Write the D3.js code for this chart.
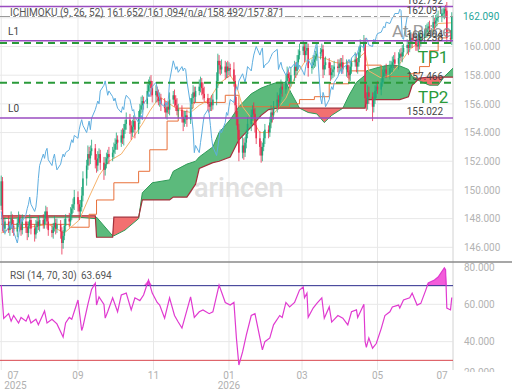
<!DOCTYPE html>
<html>
<head>
<meta charset="utf-8">
<script src="https://cdn.jsdelivr.net/npm/d3@7"></script>
<style>
  body { margin: 0; background: #fff; }
  svg { display: block; font-family: Roboto, "Noto Sans", sans-serif; }
</style>
</head>
<body>
<div id="chart"></div>
<script>
// Daily candles, Jul 2025 - Jun 2026 (weekdays), open = previous close
const firstOpen = 148.9;
const closes = [
  // Jul 2025
  150.6,147.6,147.3,147.8,147.2,147.6,148.0,147.5,147.1,147.7,148.1,147.6,147.2,147.8,147.4,147.0,147.5,147.9,147.3,146.9,147.4,147.8,147.5,
  // Aug
  147.9,147.6,148.0,148.5,147.8,147.2,147.0,147.4,147.7,147.3,147.6,147.1,146.3,146.8,147.5,148.0,147.8,148.3,148.7,149.0,149.5,
  // Sep
  149.0,148.5,148.8,149.6,150.8,151.7,152.5,152.2,152.7,152.9,152.1,151.7,152.2,152.5,151.9,151.4,151.8,152.2,152.5,152.3,152.6,152.8,
  // Oct
  153.2,153.5,153.3,153.8,153.6,154.2,154.6,154.9,154.5,154.0,154.4,154.8,154.2,155.0,155.6,155.9,156.2,156.0,156.9,157.3,157.6,157.1,156.6,
  // Nov
  156.9,156.5,156.2,156.4,156.0,155.7,155.4,155.8,155.6,156.3,156.6,156.3,155.9,155.5,155.6,155.1,154.7,155.0,155.2,154.9,
  // Dec
  156.0,156.4,156.8,156.5,156.9,157.2,157.5,157.1,156.7,156.4,156.0,155.8,156.1,155.9,156.3,157.6,159.0,158.7,158.4,158.6,158.2,158.6,158.3,
  // Jan 2026
  158.5,158.4,157.6,155.9,155.0,154.2,152.6,153.1,152.6,153.3,153.9,154.6,155.2,155.6,155.3,154.5,153.6,153.0,152.4,153.0,153.6,154.2,
  // Feb
  154.0,154.7,155.4,155.2,155.8,156.3,156.1,156.7,157.2,157.0,157.6,158.1,157.8,157.5,158.0,158.6,158.3,158.9,159.4,159.7,
  // Mar
  160.0,159.4,159.7,159.9,158.5,158.7,158.9,159.1,159.3,159.5,159.6,159.8,158.4,158.7,158.9,158.5,158.0,158.2,158.4,158.6,158.5,158.8,
  // Apr
  158.6,158.9,158.4,158.7,158.2,158.0,158.6,158.9,159.1,158.6,158.9,159.6,160.0,160.3,156.4,156.0,156.8,156.5,155.8,156.3,156.9,157.2,
  // May
  157.0,157.5,157.9,158.2,158.4,158.1,158.5,158.7,158.9,159.1,158.8,159.2,159.5,159.3,159.6,159.9,160.1,159.9,160.3,160.6,160.4,
  // Jun
  160.1,160.0,160.5,160.3,160.7,160.9,161.0,161.2,161.4,161.3,161.7,161.6,161.8,162.0,162.1,162.3,162.3,162.6,162.5,160.6,160.5,162.09
];
// upper wick above the body, lower wick below the body
const upWick = [
  .4,.3,.5,.3,.4,.2,.5,.3,.4,.3,.4,.2,.3,.5,.3,.4,.3,.4,.2,.3,.5,.3,.4,
  .3,.4,.5,.4,.3,.3,.4,.3,.5,.3,.4,.3,.3,.4,.5,.3,.4,.5,.3,.4,.5,
  .4,.3,.5,.6,.5,.4,.6,.5,.4,.6,.3,.4,.5,.4,.3,.4,.5,.4,.3,.5,.4,.5,
  .4,.5,.3,.4,.5,.4,.3,.5,.4,.3,.5,.4,.3,.5,.4,.6,.4,.3,.5,.4,.3,.4,.5,
  .4,.3,.5,.4,.3,.4,.5,.3,.4,.5,.3,.4,.3,.5,.4,.3,.4,.5,.3,.4,
  .4,.3,.5,.4,.3,.5,.4,.3,.4,.5,.3,.4,.3,.5,.4,.6,.5,.4,.3,.5,.4,.3,.4,
  .4,.3,.5,.4,.6,.5,.4,.6,.5,.4,.3,.5,.4,.3,.5,.4,.3,.5,.4,.3,.5,.4,
  .3,.4,.5,.3,.4,.5,.3,.4,.5,.3,.4,.5,.3,.4,.5,.4,.3,.5,.4,.5,
  .4,.3,.5,.4,.3,.4,.5,.3,.4,.5,.3,.4,.3,.5,.4,.3,.4,.5,.3,.4,.5,.3,
  .4,.3,.5,.4,.3,.5,.4,.3,.5,.4,.3,.4,.5,.5,.3,.4,.5,.4,.3,.5,.4,.3,
  .4,.3,.5,.4,.3,.4,.5,.3,.4,.3,.5,.4,.3,.4,.5,.3,.4,.3,.5,.4,.3,
  .3,.4,.5,.3,.4,.3,.5,.4,.3,.4,.5,.3,.4,.3,.4,.3,.4,.19,.3,.6,.5,.3
];
const dnWick = [
  .3,.5,.3,.4,.2,.4,.3,.5,.3,.4,.3,.5,.4,.3,.4,.5,.3,.2,.4,.5,.3,.4,.3,
  .4,.3,.3,.4,.5,.4,.3,.4,.3,.4,.3,.5,.8,.4,.3,.4,.3,.3,.4,.3,.4,
  .5,.6,.4,.3,.4,.5,.3,.5,.4,.3,.6,.5,.4,.3,.5,.7,.4,.3,.4,.5,.3,.4,
  .3,.4,.5,.3,.4,.5,.3,.4,.6,.5,.3,.4,.6,.3,.4,.3,.5,.4,.3,.4,.5,.6,.5,
  .5,.4,.3,.4,.5,.3,.4,.5,.3,.4,.3,.5,.4,.3,.5,.4,.6,.3,.4,.5,
  .3,.4,.3,.5,.4,.3,.4,.5,.4,.3,.5,.4,.3,.4,.3,.4,.5,.6,.4,.3,.5,.4,.5,
  .3,.5,.4,.6,.5,.7,.6,.4,.5,.3,.4,.3,.5,.4,.3,.5,.4,.6,.5,.4,.3,.4,
  .4,.3,.4,.5,.3,.4,.5,.3,.4,.5,.3,.4,.5,.4,.3,.4,.5,.3,.4,.3,
  .3,.5,.4,.3,.6,.4,.3,.4,.5,.3,.4,.3,.6,.4,.3,.5,.4,.3,.4,.5,.3,.4,
  .3,.4,.3,.5,.4,.3,.4,.5,.3,.4,.5,.3,.4,.3,.6,.5,.4,.5,1.0,.4,.3,.5,
  .3,.4,.3,.5,.4,.3,.4,.3,.5,.4,.3,.4,.5,.3,.4,.3,.4,.5,.3,.4,.5,
  .4,.3,.4,.5,.3,.4,.3,.4,.5,.3,.4,.5,.3,.4,.3,.4,.3,.4,.5,.4,.3,.4
];

// Ichimoku lines
const tenkanPts = [
  ["2025-07-01",147.0],["2025-07-08",147.3],["2025-07-24",147.4],["2025-08-08",147.6],["2025-08-21",147.0],
  ["2025-09-02",147.9],["2025-09-10",149.5],["2025-09-18",151.0],["2025-09-26",152.0],["2025-10-06",152.5],
  ["2025-10-15",153.6],["2025-10-23",154.6],["2025-10-29",155.5],["2025-11-06",156.5],["2025-11-14",156.0],
  ["2025-11-21",155.6],["2025-12-01",155.4],["2025-12-08",155.9],["2025-12-16",156.3],["2025-12-24",157.4],
  ["2026-01-02",158.0],["2026-01-07",157.3],["2026-01-12",155.8],["2026-01-19",155.0],["2026-01-26",154.0],
  ["2026-02-02",154.0],["2026-02-06",155.3],["2026-02-16",156.4],["2026-02-23",157.8],["2026-03-03",158.9],
  ["2026-03-11",159.3],["2026-03-19",159.2],["2026-03-27",158.9],["2026-04-03",158.8],["2026-04-13",159.0],
  ["2026-04-21",159.6],["2026-04-24",158.3],["2026-05-04",157.8],["2026-05-11",158.0],["2026-05-19",158.8],
  ["2026-05-27",159.8],["2026-06-04",160.3],["2026-06-12",160.9],["2026-06-19",161.6],["2026-06-30",161.652]
];
const kijunPts = [
  ["2025-07-01",147.6],["2025-08-01",147.6],["2025-08-25",147.4],["2025-09-10",148.3],["2025-09-16",149.3],
  ["2025-09-30",150.5],["2025-10-20",151.3],["2025-10-29",152.8],["2025-11-12",154.8],["2025-11-21",155.7],
  ["2025-12-03",156.1],["2025-12-29",156.6],["2026-01-09",155.8],["2026-02-19",156.0],["2026-02-27",156.3],
  ["2026-03-11",156.5],["2026-03-23",157.4],["2026-04-08",158.3],["2026-04-21",158.7],["2026-05-04",157.9],
  ["2026-05-27",158.1],["2026-06-04",158.6],["2026-06-12",159.7],["2026-06-19",160.6],["2026-06-26",161.094],
  ["2026-06-30",161.094]
];
const cloudDates = [
  "2025-07-01","2025-08-01","2025-09-01","2025-09-15","2025-09-16","2025-09-29","2025-09-30","2025-10-09",
  "2025-10-20","2025-10-23","2025-10-31","2025-11-14","2025-11-17","2025-11-28","2025-12-05","2025-12-08",
  "2025-12-19","2025-12-24","2026-01-02","2026-01-09","2026-01-19","2026-01-27","2026-02-02","2026-02-09",
  "2026-02-16","2026-02-20","2026-02-27","2026-03-06","2026-03-13","2026-03-19","2026-03-25","2026-04-03",
  "2026-04-08","2026-04-14","2026-04-21","2026-04-22","2026-05-04","2026-05-11","2026-05-19","2026-05-26",
  "2026-05-29","2026-06-04","2026-06-12","2026-06-19","2026-06-24","2026-07-01"
];
const spanA = [
  148.0,148.1,148.1,148.0,148.1,146.8,146.8,147.2,148.0,149.8,150.5,150.7,151.3,151.8,152.0,152.3,
  153.0,154.0,154.9,155.8,156.7,157.1,157.3,157.5,157.5,156.8,155.7,155.4,155.3,154.7,155.2,155.7,
  156.6,157.5,158.0,158.3,158.6,158.7,158.65,158.4,157.9,157.6,157.3,157.3,157.9,158.49
];
const spanB = [
  148.2,148.2,148.2,148.2,146.7,146.7,148.1,148.1,148.1,149.3,149.3,149.3,149.5,149.5,150.4,151.5,
  151.9,152.0,152.3,153.5,154.4,155.2,155.6,155.7,155.7,155.7,155.7,155.7,155.7,155.7,155.7,155.7,
  155.7,155.7,155.7,156.3,156.3,156.3,156.3,156.5,157.3,157.8,157.87,157.87,157.87,157.87
];
const chikouShift = 26;

// RSI (14)
const rsiPts = [
  ["2025-07-01",70.3],["2025-07-03",52.5],["2025-07-07",55],["2025-07-09",51],["2025-07-11",54],["2025-07-15",50],
  ["2025-07-17",53],["2025-07-21",51],["2025-07-23",54],["2025-07-25",50],["2025-07-29",52],["2025-07-31",49],
  ["2025-08-05",56.4],["2025-08-07",50],["2025-08-11",52],["2025-08-15",49.5],["2025-08-20",42.5],["2025-08-22",50],
  ["2025-08-25",53],["2025-08-27",52],["2025-09-01",62.3],["2025-09-04",46],["2025-09-05",48],["2025-09-09",60],
  ["2025-09-12",68],["2025-09-15",71.3],["2025-09-16",59.6],["2025-09-18",64],["2025-09-22",60],["2025-09-23",52.6],
  ["2025-09-25",56],["2025-09-29",63.5],["2025-10-03",56],["2025-10-06",65],["2025-10-10",66],["2025-10-14",57],
  ["2025-10-17",63.5],["2025-10-21",62],["2025-10-24",65],["2025-10-28",73],["2025-10-31",66],["2025-11-04",61],
  ["2025-11-06",59.6],["2025-11-10",52.6],["2025-11-14",63.5],["2025-11-18",54],["2025-11-21",50.5],["2025-11-24",47.3],
  ["2025-12-01",64],["2025-12-04",53],["2025-12-08",56],["2025-12-11",57],["2025-12-16",55],["2025-12-19",56],
  ["2025-12-24",70.3],["2025-12-29",61],["2026-01-02",59.6],["2026-01-05",61],["2026-01-07",42],["2026-01-09",27.5],
  ["2026-01-12",34.5],["2026-01-15",43.5],["2026-01-19",54],["2026-01-22",55],["2026-01-26",42],["2026-01-28",35.6],
  ["2026-01-30",40],["2026-02-03",42],["2026-02-06",49],["2026-02-11",54],["2026-02-13",53],["2026-02-16",61],
  ["2026-02-19",58.6],["2026-02-23",61],["2026-02-27",67.6],["2026-03-02",69.3],["2026-03-03",63.5],["2026-03-05",66],
  ["2026-03-06",53],["2026-03-10",58],["2026-03-13",60.5],["2026-03-17",63.5],["2026-03-19",52.5],["2026-03-23",58.6],
  ["2026-03-25",50.5],["2026-03-30",54],["2026-04-03",52.6],["2026-04-07",49],["2026-04-10",56],["2026-04-14",57],
  ["2026-04-15",53],["2026-04-20",60],["2026-04-21",40],["2026-04-22",37],["2026-04-24",42],["2026-04-27",36.5],
  ["2026-04-30",39],["2026-05-04",47],["2026-05-07",54],["2026-05-11",56],["2026-05-13",58.6],["2026-05-18",59.6],
  ["2026-05-19",58],["2026-05-22",62.3],["2026-05-27",63.5],["2026-05-29",66],["2026-06-02",59.6],["2026-06-05",60.5],
  ["2026-06-09",67.6],["2026-06-11",71.4],["2026-06-16",73],["2026-06-19",74.6],["2026-06-24",79.5],["2026-06-25",78.5],
  ["2026-06-26",58],["2026-06-29",57],["2026-06-30",63.694]
];

// Horizontal levels
const purpleLevels = [["L2",162.792],["L1",160.404],["L0",155.022]];
const tpLevels = [["TP1",160.238],["TP2",157.466]];
const lastPrice = 162.091;
const priceTicks = [146,148,150,152,154,156,158,160,162];
const rsiTicks = [80,60,40,20];
const monthTicks = [["2025-07-01","07","2025"],["2025-09-01","09"],["2025-11-01","11"],["2026-01-01","01","2026"],
                    ["2026-03-01","03"],["2026-05-01","05"],["2026-07-01","07"]];

// ---------------------------------------------------------------
const W = 520, H = 390, plotR = 453;
const mainBot = 262, rsiTop = 262, rsiBot = 370;
const green = "#1fa77a", red = "#e8294b";
const parse = d3.timeParse("%Y-%m-%d");

const x = d3.scaleTime().domain([parse("2025-06-30"), parse("2026-07-01")]).range([0, plotR]);
const y = d3.scaleLinear().domain([146, 160]).range([247.3, 46.5]);
const yR = d3.scaleLinear().domain([20, 80]).range([379, 267]);

// trading days
const days = [];
for (let d = parse("2025-07-01"); d <= parse("2026-06-30"); d = d3.timeDay.offset(d, 1)) {
  if (d.getDay() % 6 !== 0) days.push(d);
}
const candles = days.map((d, i) => {
  const o = i ? closes[i - 1] : firstOpen, c = closes[i];
  return {d, o, c, h: Math.max(o, c) + upWick[i], l: Math.min(o, c) - dnWick[i]};
});

const svg = d3.select("#chart").append("svg").attr("width", W).attr("height", H);
const defs = svg.append("defs");
defs.append("clipPath").attr("id", "clipMain").append("rect").attr("x", 0).attr("y", 0).attr("width", plotR).attr("height", mainBot);
defs.append("clipPath").attr("id", "clipRsi").append("rect").attr("x", 0).attr("y", rsiTop).attr("width", plotR).attr("height", rsiBot - rsiTop);
defs.append("clipPath").attr("id", "clipRsiAxis").append("rect").attr("x", -10).attr("y", rsiTop).attr("width", W - plotR + 10).attr("height", rsiBot - rsiTop + 2);

// grid
const grid = svg.append("g").attr("stroke", "#e8e8e8").attr("stroke-width", 1);
grid.selectAll(".hg").data(priceTicks).join("line")
  .attr("x1", 0).attr("x2", plotR).attr("y1", d => y(d)).attr("y2", d => y(d));
grid.selectAll(".rg").data([60, 40]).join("line").attr("class", "rg")
  .attr("x1", 0).attr("x2", plotR).attr("y1", d => yR(d)).attr("y2", d => yR(d));
grid.selectAll(".vg").data(monthTicks).join("line").attr("class", "vg")
  .attr("x1", d => x(parse(d[0]))).attr("x2", d => x(parse(d[0])))
  .attr("y1", 0).attr("y2", rsiBot);
svg.append("line").attr("x1", plotR).attr("x2", plotR).attr("y1", 0).attr("y2", rsiBot)
  .attr("stroke", "#dedede");

// watermark
const wm = svg.append("g").attr("fill", "#e0e0e0");
wm.append("path").attr("transform", "translate(183,188)")
  .attr("d", d3.arc().innerRadius(5).outerRadius(9.5).startAngle(0.6).endAngle(2 * Math.PI - 0.2)());
wm.append("text").attr("x", 194).attr("y", 197).attr("font-size", 27).attr("font-weight", 500).text("arincen");

const main = svg.append("g").attr("clip-path", "url(#clipMain)");

// cloud
const cloud = cloudDates.map((s, i) => ({d: parse(s), a: spanA[i], b: spanB[i]}));
main.append("path").datum(cloud).attr("fill", "#5cba7c")
  .attr("d", d3.area().x(d => x(d.d)).y0(d => y(d.b)).y1(d => y(Math.max(d.a, d.b))));
main.append("path").datum(cloud).attr("fill", "#f27070")
  .attr("d", d3.area().x(d => x(d.d)).y0(d => y(d.a)).y1(d => y(Math.max(d.a, d.b))));
main.append("path").datum(cloud).attr("fill", "none").attr("stroke", "#2e9b57").attr("stroke-width", 1)
  .attr("d", d3.line().x(d => x(d.d)).y(d => y(d.a)));
main.append("path").datum(cloud).attr("fill", "none").attr("stroke", "#a3303b").attr("stroke-width", 1.2)
  .attr("d", d3.line().x(d => x(d.d)).y(d => y(d.b)));

// tenkan / kijun
main.append("path").datum(kijunPts).attr("fill", "none").attr("stroke", "#e8703a").attr("stroke-width", 1)
  .attr("d", d3.line().curve(d3.curveStepAfter).x(d => x(parse(d[0]))).y(d => y(d[1])));
main.append("path").datum(tenkanPts).attr("fill", "none").attr("stroke", "#f6b26b").attr("stroke-width", 1)
  .attr("d", d3.line().x(d => x(parse(d[0]))).y(d => y(d[1])));

// candles
const gC = main.append("g");
gC.selectAll("line").data(candles).join("line")
  .attr("x1", d => x(d.d)).attr("x2", d => x(d.d))
  .attr("y1", d => y(d.h)).attr("y2", d => y(d.l))
  .attr("stroke", d => d.c >= d.o ? green : red).attr("stroke-width", 0.8);
gC.selectAll("rect").data(candles).join("rect")
  .attr("x", d => x(d.d) - 0.75).attr("width", 1.5)
  .attr("y", d => y(Math.max(d.o, d.c)))
  .attr("height", d => Math.max(0.8, Math.abs(y(d.o) - y(d.c))))
  .attr("fill", d => d.c >= d.o ? green : red);

// chikou span: close plotted 26 bars back
const chikou = days.slice(0, days.length - chikouShift).map((d, i) => [d, closes[i + chikouShift]]);
main.append("path").datum(chikou).attr("fill", "none").attr("stroke", "#5eaee0").attr("stroke-width", 1)
  .attr("d", d3.line().x(d => x(d[0])).y(d => y(d[1])));

// levels
svg.selectAll(".pl").data(purpleLevels).join("line").attr("class", "pl")
  .attr("x1", 0).attr("x2", plotR).attr("y1", d => y(d[1])).attr("y2", d => y(d[1]))
  .attr("stroke", "#9a4cc0").attr("stroke-width", 1.5);
svg.selectAll(".tl").data(tpLevels).join("line").attr("class", "tl")
  .attr("x1", 0).attr("x2", plotR).attr("y1", d => y(d[1])).attr("y2", d => y(d[1]))
  .attr("stroke", "#2a9a3a").attr("stroke-width", 2).attr("stroke-dasharray", "7,5");
svg.append("line").attr("x1", 0).attr("x2", plotR).attr("y1", y(lastPrice)).attr("y2", y(lastPrice))
  .attr("stroke", "#9a9a9a").attr("stroke-width", 1).attr("stroke-dasharray", "10,3,3,3");

// level texts
const fmt = d3.format(".3f");
const lv = svg.append("g").attr("font-size", 10).attr("fill", "#444");
lv.selectAll(".lt").data(purpleLevels).join("text")
  .attr("x", 8).attr("y", d => y(d[1]) - 6).text(d => d[0]);
const valLabels = [162.792, lastPrice, 160.404, 160.238, 157.466, 155.022];
lv.selectAll(".vl").data(valLabels).join("text").attr("class", "vl")
  .attr("x", 443).attr("y", d => y(d) - 2.5).attr("text-anchor", "end").text(d => fmt(d));
svg.append("text").attr("x", 392).attr("y", 37).attr("font-size", 17).attr("fill", "#8a8a8a")
  .attr("opacity", 0.85).text("At Price");
svg.selectAll(".tp").data(tpLevels).join("text").attr("class", "tp")
  .attr("x", 418).attr("y", d => y(d[1]) + 20).attr("font-size", 17).attr("fill", "#2a9a3a").text(d => d[0]);

// legend
const leg = svg.append("g").attr("font-size", 10).attr("fill", "#555");
leg.append("text").attr("x", 10).attr("y", 16).text("ICHIMOKU (9, 26, 52)");
leg.append("text").attr("x", 107).attr("y", 16).text("161.652/161.094/n/a/158.492/157.871");
leg.append("text").attr("x", 10).attr("y", 279).text("RSI (14, 70, 30)");
leg.append("text").attr("x", 81).attr("y", 279).text("63.694");

// right price axis
svg.append("g").attr("transform", `translate(${plotR + 8},0)`)
  .call(d3.axisRight(y).tickValues(priceTicks.slice(0, 8)).tickSize(0).tickFormat(fmt))
  .call(g => g.select(".domain").remove())
  .call(g => g.selectAll("text").attr("fill", "#b3b3b3").attr("font-size", 10).attr("font-family", "Roboto, sans-serif"));
svg.append("text").attr("x", plotR + 10).attr("y", y(162.09)).attr("dy", "0.35em")
  .attr("font-size", 10).attr("fill", "#26a69a").text("162.090");

// RSI panel
const rsi = svg.append("g").attr("clip-path", "url(#clipRsi)");
const rsiData = rsiPts.map(d => [parse(d[0]), d[1]]);
rsi.append("path").datum(rsiData).attr("fill", "#f24ad6").attr("opacity", 0.9)
  .attr("d", d3.area().x(d => x(d[0])).y0(yR(70)).y1(d => yR(Math.max(70, d[1]))));
rsi.append("line").attr("x1", 0).attr("x2", plotR).attr("y1", yR(70)).attr("y2", yR(70))
  .attr("stroke", "#2b2b8c").attr("stroke-width", 1);
rsi.append("line").attr("x1", 0).attr("x2", plotR).attr("y1", yR(30)).attr("y2", yR(30))
  .attr("stroke", "#d9464e").attr("stroke-width", 1);
rsi.append("path").datum(rsiData).attr("fill", "none").attr("stroke", "#e03ad0").attr("stroke-width", 1.2)
  .attr("d", d3.line().x(d => x(d[0])).y(d => yR(d[1])));

// RSI axis: the bottom label is nudged up and cut by the panel edge
svg.append("g").attr("clip-path", "url(#clipRsiAxis)")
  .attr("transform", `translate(${plotR + 8},0)`)
  .call(d3.axisRight(yR).tickValues(rsiTicks).tickSize(0).tickFormat(fmt))
  .call(g => g.select(".domain").remove())
  .call(g => g.selectAll("text").attr("fill", "#b3b3b3").attr("font-size", 10).attr("font-family", "Roboto, sans-serif"))
  .call(g => g.selectAll(".tick").filter(d => d === 20).select("text").attr("y", -7));

// separator between panels
svg.append("line").attr("x1", 0).attr("x2", 512).attr("y1", mainBot).attr("y2", mainBot)
  .attr("stroke", "#8a8a8a").attr("stroke-width", 1.5);

// x axis labels
const xl = svg.append("g").attr("font-size", 10).attr("fill", "#b0b0b0").attr("text-anchor", "middle");
xl.selectAll(".m").data(monthTicks).join("text")
  .attr("x", d => Math.min(442, Math.max(13, x(parse(d[0]))))).attr("y", 379).text(d => d[1]);
xl.selectAll(".yr").data(monthTicks.filter(d => d[2])).join("text").attr("class", "yr")
  .attr("x", d => Math.max(15.5, x(parse(d[0])))).attr("y", 389).text(d => d[2]);
</script>
</body>
</html>
